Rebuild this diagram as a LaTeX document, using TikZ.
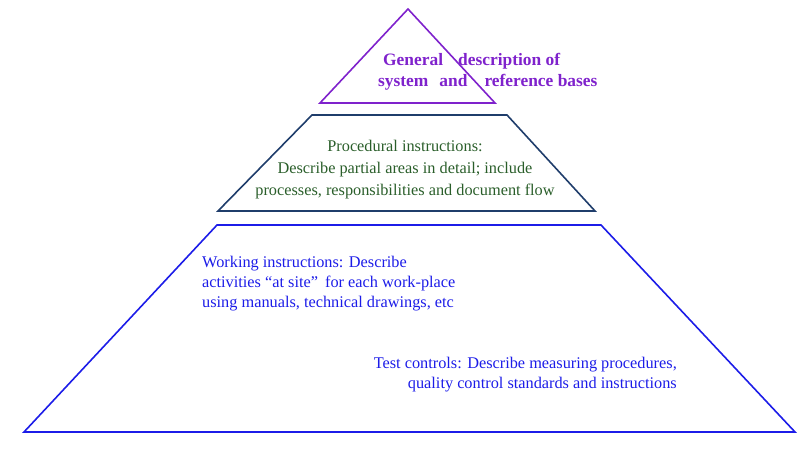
\documentclass[tikz,border=0pt]{standalone}
\usepackage{fontspec}
\setmainfont{Liberation Serif}
\usepackage{xcolor}
\usetikzlibrary{positioning}
\definecolor{toppurple}{HTML}{7F22CC}
\definecolor{navy}{HTML}{1F3D6B}
\definecolor{darkgreen}{HTML}{2A5E2A}
\definecolor{baseblue}{HTML}{1C1CE8}
\tikzset{
  level/.style={line width=1.6pt,line join=miter},
  toptext/.style={
    inner sep=0pt,align=left,text=toppurple,
    font=\bfseries\fontsize{17.4}{21}\selectfont
  },
  midtext/.style={
    inner sep=0pt,align=center,text=darkgreen,
    font=\fontsize{16.3}{22}\selectfont
  },
  basetext/.style={
    inner sep=0pt,text=baseblue,
    font=\fontsize{16.3}{20}\selectfont
  }
}

\begin{document}
\begin{tikzpicture}[x=1pt,y=-1pt]
\useasboundingbox (0,0) rectangle (810,457);

\draw[level,draw=toppurple] (408,9) -- (495,103) -- (320,103) -- cycle;
\draw[level,draw=navy] (312,115) -- (507,115) -- (595,211) -- (218,211) -- cycle;
\draw[level,draw=baseblue] (217,225) -- (601,225) -- (795,432) -- (24,432) -- cycle;

\node[toptext,anchor=west] (general) at (378,72)
{\hspace*{5pt}General\hspace{15pt}description of\\
system\hspace{11pt}and\hspace{17pt}reference bases};

\node[midtext] (procedural) at (405,170)
{Procedural instructions:\\
Describe partial areas in detail; include\\
processes, responsibilities and document flow};

\node[basetext,align=left,anchor=west] (working) at (202,284)
{Working instructions: Describe\\
activities ``at site''\hspace{7pt}for each work-place\\
using manuals, technical drawings, etc};

\node[basetext,align=right,anchor=east] (testing) at (677,375)
{Test controls: Describe measuring procedures,\\
quality control standards and instructions};
\end{tikzpicture}
\end{document}
